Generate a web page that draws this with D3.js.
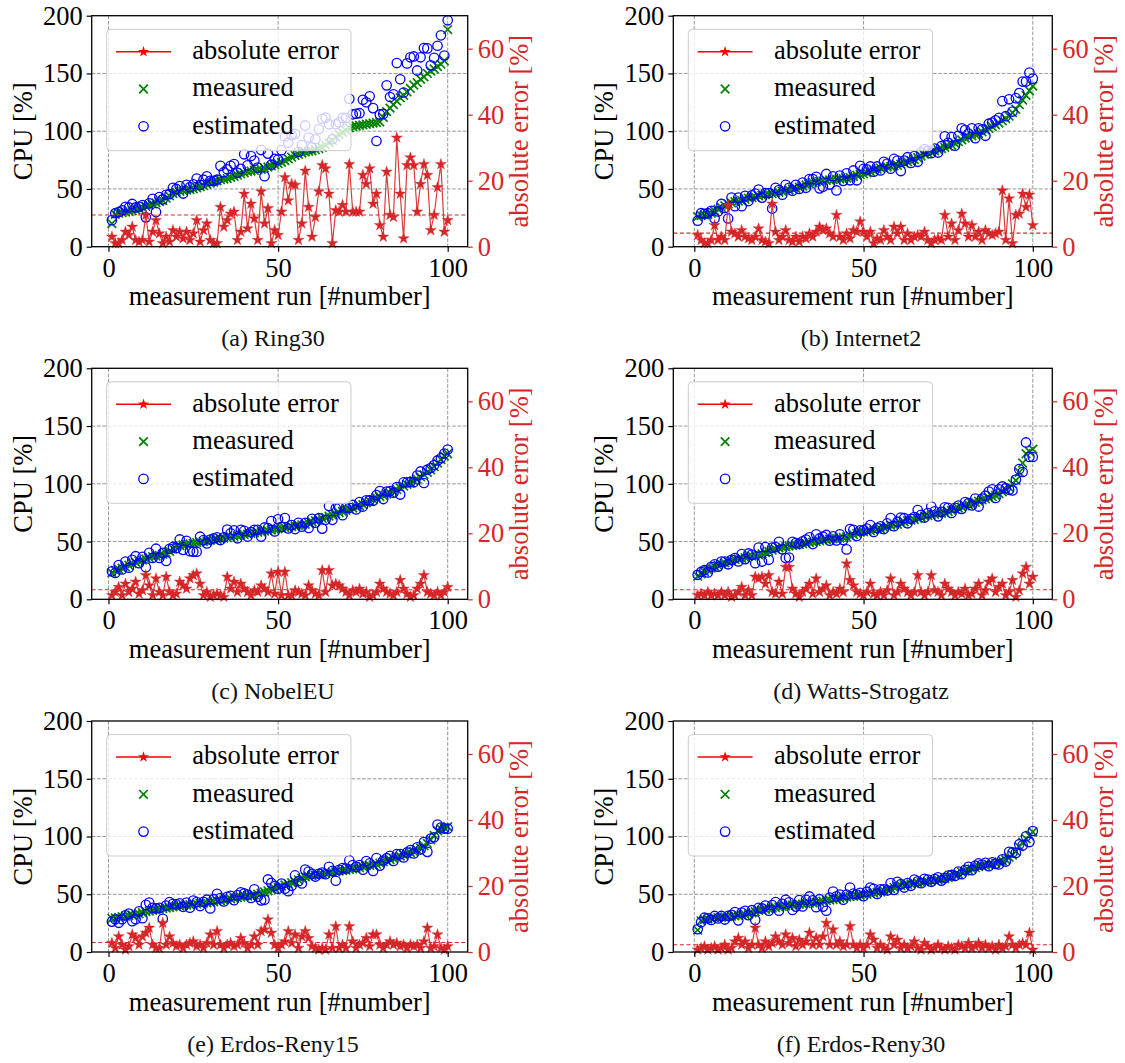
<!DOCTYPE html>
<html>
<head>
<meta charset="utf-8">
<script src="https://cdn.jsdelivr.net/npm/d3@7"></script>
<style>
  html, body { margin: 0; padding: 0; background: #ffffff; }
  svg { display: block; }
  text { font-family: "Liberation Serif", "Times New Roman", serif; }
</style>
</head>
<body>
<svg id="fig" width="1125" height="1063"></svg>
<script>
// ---- data -------------------------------------------------------------
const runIndex = d3.range(1, 101);           // measurement runs 1..100
const cpuTicks = [0, 50, 100, 150, 200];
const errTicks = [0, 20, 40, 60];
const runTicks = [0, 50, 100];
const seriesNames = ["absolute error", "measured", "estimated"];
const captions = ["(a) Ring30", "(b) Internet2", "(c) NobelEU",
                  "(d) Watts-Strogatz", "(e) Erdos-Reny15", "(f) Erdos-Reny30"];
const meanErrors = [9.6, 4.1, 2.9, 2.9, 2.9, 2.2];

const ring30Measured = [20,28,29,29.5,30,30.5,31,32,33,34, 35,36,37,38,39,40,42,44,46,47, 48,48.5,49,49.5,50,51,52,53,54,55, 56,57,58,58.5,59,60,61,62,63,64, 65,65.5,66,66.5,67,68,69,70,71,72, 73,74.5,76,77.5,79,80,81,82,82.5,83, 84,85,86,88,90,92,95,97,99,101, 103,104,104.5,105,105.5,106,106.5,107,107.5,108, 112,117,120,123,126,129,131,134,137,140, 142,145,147,150,152,154,156,158,161,188];
const ring30Estimated = [23,29,30,31.5,34.5,34,37,34,34.5,36, 25.4,37.5,41.5,30,43,41,45,45.5,51,50, 52.5,46,53.5,51.5,54,59,53.5,58,61,57, 57,58,70,64.5,67,70,71.6,64,67.5,80, 70.5,78.5,74.5,68.5,83.7,61,80.6,71,76,75.5, 83.6,95.5,90,96.5,97.7,82,88,105,94.5,86, 93,101.7,110.7,111.7,106,93,106,107.6,111.6,111.6, 128,114.6,115.1,115.6,127.2,125,130.2,120,91.5,114.5, 115,139.7,129.6,132,159,145,133.5,158.7,164,164.7, 152.6,164,172,171.7,157,163.6,174,183,165.5,196];
const ring30Error = [3,1,1,2,4.5,3.5,6,2,1.5,2, 9.6,1.5,4.5,8,4,1,3,1.5,5,3, 4.5,2.5,4.5,2,4,8,1.5,5,7,2, 1,1,12,6,8,10,10.6,2,4.5,16, 5.5,13,8.5,2,16.7,7,11.6,1,5,3.5, 10.6,21,14,19,18.7,2,7,23,12,3, 9,16.7,24.7,23.7,16,1,11,10.6,12.6,10.6, 25,10.6,10.6,10.6,21.7,19,23.7,13,16,6.5, 3,22.7,9.6,9,33,16,2.5,24.7,27,24.7, 10.6,19,25,21.7,5,9.6,18,25,4.5,8];

const internet2Measured = [26,27,27.5,28,29,31,32.5,34,35.5,37, 38,39,39.5,40,41,42,42.5,43,44,44.5, 45,45.5,46,46.5,47,48,48.5,49,50,50.5, 51.5,52.5,53.5,54.5,55.5,56,56.5,57,57.5,57.8, 58,58.3,58.6,59,59.5,60,61,62,62.5,63, 64,65,66,67,68,68.5,69,69.5,70,70.5, 71.5,72.5,73.5,74.5,75.5,77,78.5,80,81,82, 83,84,85,86,87,88,89.5,91,92.5,94, 95,96,97,98,99.5,101,102.5,104,105.5,107, 109,111,113,116,119,123,127,131,135,139];
const internet2Estimated = [22.5,29,28.5,29,31,24.5,30.5,37,33.5,24.4, 42.5,35,42.5,35,44,39.5,44.5,46,49.5,42.5, 46.5,46.5,33,51,49,45,53.5,51,48.5,53.5, 50,55.5,51,58.5,58.5,60.5,50.5,52,63,53.8, 61,48.7,61.6,57,63.5,57.5,66,57.5,70.1,67.5, 67,69.5,65,69.5,66,73.5,72,67.5,76,74.5, 65.5,74.5,77.5,72.5,78.5,73.5,81.5,84.5,83,81, 85,81.5,87,95.6,90,95,87.5,96,102.5,101, 98,102.5,94,102.5,101.5,96,106.5,107.5,109.5,111.5, 126,113,127.6,117,128.6,133,143,143,150.7,145.5];
const internet2Error = [3.5,2,1,1,2,6.5,2,3,2,12.6, 4.5,4,3,5,3,2.5,2,3,5.5,2, 1.5,1,13,4.5,2,3,5,2,1.5,3, 1.5,3,2.5,4,3,4.5,6,5,5.5,4, 3,9.6,3,2,4,2.5,5,4.5,7.6,4.5, 3,4.5,1,2.5,2,5,3,2,6,4, 6,2,4,2,3,3.5,3,4.5,2,1, 2,2.5,2,9.6,3,7,2,5,10,7, 3,6.5,3,4.5,2,5,4,3.5,4,4.5, 17,2,14.6,1,9.6,10,16,12,15.7,6.5];

const nobelMeasured = [23,25,26,27,28,29.5,31,32,33,34, 35,36,37,37.5,38,39,40,41.5,44,46, 46.5,47,47.5,48,48.5,49,49.5,50,50.5,51, 51.5,52,52.5,53,53.5,54,54.5,55,55.5,56, 56.5,57,57.5,58,58.5,59,59.5,60,60.5,61, 61.5,62,62.5,63,63.5,64,64.5,65,66,67, 68,69,70,71,72,73,74,75,76,77, 78,79,80,81,82,83.5,85,86.5,88,89, 90,91,92,93.5,95,96.5,98,99.5,101,102.5, 104,106,108,110,112,115,118,121,124,126];
const nobelEstimated = [24.2,22.8,29.7,25.8,32.7,27.3,34.2,37.3,31.3,36.7, 27.7,40.2,35.8,43.8,35.8,40.2,33.2,43.7,45.2,44.3, 51.8,42.8,50.7,41.7,41.2,41.2,54.2,51.2,48.3,51.7, 52.7,53.7,51.3,53.7,60.3,57.2,59.8,52.8,60.2,59.2, 54.3,58.2,60.2,60.2,54.3,62.2,61.7,67.8,58.8,69.3, 62.7,70.3,61.3,64.2,60.8,66.2,62.8,66.2,61.8,69.7, 66.3,70.2,61.2,68.8,80.8,68.8,78.7,79.2,72.8,79.2, 79.2,81.7,77.8,84.2,80.3,85.7,85.7,85.3,90.2,93.7, 86.8,93.2,93.7,92.3,97.2,90.7,101.2,101.2,101.7,101.3, 107.2,110.7,100.7,112.2,113.7,116.2,120.2,122.2,126.2,129.7];
const nobelError = [1.2,2.2,3.7,1.2,4.7,2.2,3.2,5.3,1.7,2.7, 7.3,4.2,1.2,6.3,2.2,1.2,6.8,2.2,1.2,1.7, 5.3,4.2,3.2,6.3,7.3,7.8,4.7,1.2,2.2,0.7, 1.2,1.7,1.2,0.7,6.8,3.2,5.3,2.2,4.7,3.2, 2.2,1.2,2.7,2.2,4.2,3.2,2.2,7.8,1.7,8.3, 1.2,8.3,1.2,1.2,2.7,2.2,1.7,1.2,4.2,2.7, 1.7,1.2,8.8,2.2,8.8,4.2,4.7,4.2,3.2,2.2, 1.2,2.7,2.2,3.2,1.7,2.2,0.7,1.2,2.2,4.7, 3.2,2.2,1.7,1.2,2.2,5.8,3.2,1.7,0.7,1.2, 3.2,4.7,7.3,2.2,1.7,1.2,2.2,1.2,2.2,3.7];

const wattsMeasured = [20,22,24,25.5,27,28.5,29.5,30.5,31.5,32.5, 33.5,34.5,35,35.5,36,37,37.5,38,38.5,39.5, 40.5,41.5,42.5,43.5,44.5,45,45.5,46,46.5,47, 47.5,48,48.5,49,49.5,50,50.5,51,51.5,52, 52.3,52.6,53,53.5,54,55,56,57,58,58.5, 59,59.5,60,60.5,61,62,63,64,64.5,65, 66,67,68,68.5,69,70,71,72,72.5,73, 73.5,74,74.5,75,76,77,78,79,80,81, 82,83,84,85,86,87,88,89,90,91.5, 93,95,97,100,103,110,118,126,128,130];
const wattsEstimated = [21.2,23.7,25.2,23.3,28.2,30.2,28.3,32.7,32.7,30.3, 34.2,35.7,32.8,39.2,34.8,39.7,38.7,31.2,44.8,32.7, 45.2,34.2,44.7,45.2,49.8,43.3,35.7,36.2,49.7,48.7, 48.2,50.2,51.7,53.7,47.8,56.3,52.7,54.2,55.7,50.8, 54.5,50.9,56.2,51.3,43.2,60.8,60.2,54.8,59.7,59.7, 61.2,64.2,58.3,61.7,63.2,60.8,65.7,70.3,63.3,67.2, 70.7,70.2,65.8,69.7,71.2,77.3,73.2,70.8,74.7,80.3, 76.2,71.8,75.7,79.7,79.2,74.8,79.2,81.2,78.3,84.2, 83.2,81.3,87.2,80.3,87.2,89.7,93.3,95.3,87.8,95.2, 97.7,96.2,94.8,94.2,103.7,112.7,110.2,135.8,123.3,123.2];
const wattsError = [1.2,1.7,1.2,2.2,1.2,1.7,1.2,2.2,1.2,2.2, 0.7,1.2,2.2,3.7,1.2,2.7,1.2,6.8,6.3,6.8, 4.7,7.3,2.2,1.7,5.3,1.7,9.8,9.8,3.2,1.7, 0.7,2.2,3.2,4.7,1.7,6.3,2.2,3.2,4.2,1.2, 2.2,1.7,3.2,2.2,10.8,5.8,4.2,2.2,1.7,1.2, 2.2,4.7,1.7,1.2,2.2,1.2,2.7,6.3,1.2,2.2, 4.7,3.2,2.2,1.2,2.2,7.3,2.2,1.2,2.2,7.3, 2.7,2.2,1.2,4.7,3.2,2.2,1.2,2.2,1.7,3.2, 1.2,1.7,3.2,4.7,1.2,2.7,5.3,6.3,2.2,3.7, 4.7,1.2,2.2,5.8,0.7,2.7,7.8,9.8,4.7,6.8];

const erdos15Measured = [29,29.5,30,30.5,31,31.5,32,32.5,33,34, 35,35.5,36,36.5,37,37.5,38,38.5,39,39.5, 40,40.3,40.6,41,41.3,41.6,42,42.3,42.6,43, 43.5,44,44.5,45,45.5,46,46.5,47,47.5,48, 48.5,49,49.5,50,51,52,53,54,55,56, 57,58,59,60,61,62.5,64,65,65.5,66, 66.5,67,67.5,68,68.5,69,69.5,70,70.5,71, 71.5,72,72.5,73,74,74.5,75,75.5,76,77, 78,79,80,81,82,83,84,85,86,87, 88.5,90,92,94,97,101,105,106.5,107.5,108.5];
const erdos15Estimated = [26.3,28.3,25.3,28.3,31.7,33.2,26.7,28.3,35.2,29.3, 40.8,42.8,38.2,37.7,38.2,28.7,40.2,43.2,41.7,41.2, 42.2,39.1,42.8,38.3,44.5,43.3,39.8,43.5,45.3,37.7, 45.7,50.3,46.7,43.8,47.7,48.7,44.8,49.2,51.7,50.7, 49.7,46.8,54.2,47.8,44.7,45.2,62.8,59.8,57.2,54.8, 59.2,54.8,52.7,57.3,66.3,61.3,59.3,71.3,69.7,67.7, 65.3,67.7,68.7,67.3,73.8,70.2,61.7,71.2,72.7,72.2, 79.3,75.2,73.7,75.2,71.3,78.7,76.7,70.2,81.3,74.8, 79.2,81.2,83.2,78.8,84.7,84.7,81.8,86.2,88.2,85.3, 90.7,88.8,95.2,86.7,98.2,99.3,110.3,107.7,106.8,106.8];
const erdos15Error = [2.7,1.2,4.7,2.2,0.7,1.7,5.3,4.2,2.2,4.7, 5.8,7.3,2.2,1.2,1.2,8.8,2.2,4.7,2.7,1.7, 2.2,1.2,2.2,2.7,3.2,1.7,2.2,1.2,2.7,5.3, 2.2,6.3,2.2,1.2,2.2,2.7,1.7,2.2,4.2,2.7, 1.2,2.2,4.7,2.2,6.3,6.8,9.8,5.8,2.2,1.2, 2.2,3.2,6.3,2.7,5.3,1.2,4.7,6.3,4.2,1.7, 1.2,0.7,1.2,0.7,5.3,1.2,7.8,1.2,2.2,1.2, 7.8,3.2,1.2,2.2,2.7,4.2,1.7,5.3,5.3,2.2, 1.2,2.2,3.2,2.2,2.7,1.7,2.2,1.2,2.2,1.7, 2.2,1.2,3.2,7.3,1.2,1.7,5.3,1.2,0.7,1.7];

const erdos30Measured = [19,27,28,28.5,29,29.5,29.8,30,30.3,30.6, 31,31.3,31.6,32,32.4,33,34,35,36,36.5, 37,37.5,38,38.5,39,39.5,40,40.3,40.6,41, 41.3,41.6,42,42.3,42.6,43,43.5,44,44.5,45, 45.5,46,46.5,47,47.5,48,48.3,48.6,49,49.5, 50,50.5,51,51.5,52,53,54,55,56,57, 57.5,58,58.5,59,59.5,60,60.3,60.6,61,61.5, 62,62.5,63,63.5,64.5,65.5,66.5,67.5,69,70, 71,72,73,74,74.5,75,75.5,76,77,78, 79,80,82,84,87,91,95,98,101,104];
const erdos30Estimated = [19.7,25.8,29.7,29.2,27.8,31.2,29.1,31.2,28.1,31.3, 32.2,34.5,27.4,34.2,35.6,31.8,36.2,27.7,38.2,37.7, 40.2,35.8,40.7,43.2,35.8,41.7,45.3,43,36.4,39.3, 45,39.4,45.2,48.1,44.8,38.8,45.7,39.3,35.7,47.2, 52.3,48.2,49.7,45.3,49.7,55.8,50.5,49.8,51.2,48.3, 52.2,55.8,54.7,50.3,54.2,54.2,53.3,59.7,53.8,60.7, 58.7,55.8,59.7,57.3,62.7,61.2,59.6,63.3,62.7,60.8, 63.2,64.7,61.8,64.2,66.2,66.7,65.8,69.7,67.3,71.2, 73.7,70.8,74.7,76.7,75.7,77.2,74.3,77.7,76.3,75.8, 80.2,78.3,86.7,86.2,85.8,93.2,92.3,100.2,95.2,104.7];
const erdos30Error = [0.7,1.2,1.7,0.7,1.2,1.7,0.7,1.2,2.2,0.7, 1.2,3.2,4.2,2.2,3.2,1.2,2.2,7.3,2.2,1.2, 3.2,1.7,2.7,4.7,3.2,2.2,5.3,2.7,4.2,1.7, 3.7,2.2,3.2,5.8,2.2,4.2,2.2,4.7,8.8,2.2, 6.8,2.2,3.2,1.7,2.2,7.8,2.2,1.2,2.2,1.2, 2.2,5.3,3.7,1.2,2.2,1.2,0.7,4.7,2.2,3.7, 1.2,2.2,1.2,1.7,3.2,1.2,0.7,2.7,1.7,0.7, 1.2,2.2,1.2,0.7,1.7,1.2,0.7,2.2,1.7,1.2, 2.7,1.2,1.7,2.7,1.2,2.2,1.2,1.7,0.7,2.2, 1.2,1.7,4.7,2.2,1.2,2.2,2.7,2.2,5.8,0.7];

// ---- layout -------------------------------------------------------------
const FONT = 26.5;
const colFrames = [
  { left: 91.7,  right: 467.7,  x0: 108.5, x100: 447.7, captionX: 273 },
  { left: 673.3, right: 1052.3, x0: 694.3, x100: 1032.8, captionX: 861 }
];
const rowTops = [15.7, 368.3, 721];
const plotH = 231;

const COLORS = {
  measured: "#008000",
  estimated: "#0000ff",
  error: "#d62728",
  legendError: "#ff0000",
  grid: "#8c8c8c",
  frameLegend: "#cccccc"
};

const panels = [
  { m: ring30Measured,    e: ring30Estimated,    err: ring30Error },
  { m: internet2Measured, e: internet2Estimated, err: internet2Error },
  { m: nobelMeasured,     e: nobelEstimated,     err: nobelError },
  { m: wattsMeasured,     e: wattsEstimated,     err: wattsError },
  { m: erdos15Measured,   e: erdos15Estimated,   err: erdos15Error },
  { m: erdos30Measured,   e: erdos30Estimated,   err: erdos30Error }
];

const svg = d3.select("#fig");
svg.append("rect").attr("width", 1125).attr("height", 1063).attr("fill", "#fff");

const starPath = d3.symbol().type(d3.symbolStar).size(38)();
const crossPath = "M-4.3,-4.3L4.3,4.3M-4.3,4.3L4.3,-4.3";
const CIRCLE_R = 4.7;

panels.forEach((p, i) => {
  const col = i % 2, row = Math.floor(i / 2);
  const f = colFrames[col];
  const T = rowTops[row], B = T + plotH, L = f.left, R = f.right;

  const x = d3.scaleLinear().domain([0, 100]).range([f.x0, f.x100]);
  const y = d3.scaleLinear().domain([0, 200]).range([B, T]);
  const yErr = d3.scaleLinear().domain([0, 70]).range([B, T]);

  const g = svg.append("g");

  // grid
  const grid = g.append("g").attr("stroke", COLORS.grid).attr("stroke-width", 0.9)
    .attr("stroke-dasharray", "3.7,1.6");
  grid.selectAll("line.v").data(runTicks).join("line")
    .attr("x1", d => x(d)).attr("x2", d => x(d)).attr("y1", T).attr("y2", B);
  grid.selectAll("line.h").data(cpuTicks.slice(1, -1)).join("line")
    .attr("x1", L).attr("x2", R).attr("y1", d => y(d)).attr("y2", d => y(d));

  // measured (x markers)
  g.append("g").selectAll("path").data(runIndex).join("path")
    .attr("d", crossPath)
    .attr("transform", (d, k) => `translate(${x(d)},${y(p.m[k])})`)
    .attr("stroke", COLORS.measured).attr("stroke-width", 1.7).attr("fill", "none");

  // estimated (open circles)
  g.append("g").selectAll("circle").data(runIndex).join("circle")
    .attr("cx", d => x(d)).attr("cy", (d, k) => y(p.e[k])).attr("r", CIRCLE_R)
    .attr("fill", "none").attr("stroke", COLORS.estimated).attr("stroke-width", 1.3);

  // mean absolute error
  g.append("line")
    .attr("x1", L).attr("x2", R)
    .attr("y1", yErr(meanErrors[i])).attr("y2", yErr(meanErrors[i]))
    .attr("stroke", COLORS.error).attr("stroke-width", 1.1).attr("stroke-dasharray", "4,2.6");

  // absolute error line + stars
  const line = d3.line().x(d => x(d)).y((d, k) => yErr(p.err[k]));
  g.append("path").datum(runIndex).attr("d", line)
    .attr("fill", "none").attr("stroke", COLORS.error).attr("stroke-width", 1.2)
    .attr("stroke-opacity", 0.9);
  g.append("g").selectAll("path").data(runIndex).join("path")
    .attr("d", starPath)
    .attr("transform", (d, k) => `translate(${x(d)},${yErr(p.err[k])})`)
    .attr("fill", COLORS.error).attr("stroke", COLORS.error).attr("stroke-width", 0.4);

  // frame
  g.append("rect").attr("x", L).attr("y", T).attr("width", R - L).attr("height", plotH)
    .attr("fill", "none").attr("stroke", "#000").attr("stroke-width", 1.3);

  // axes
  const styleAxis = (sel, color) => {
    sel.select(".domain").remove();
    sel.attr("font-family", null).attr("font-size", null);
    sel.selectAll(".tick line").attr("stroke", color).attr("stroke-width", 1.2);
    sel.selectAll(".tick text").attr("fill", color).attr("font-size", FONT);
  };
  g.append("g").attr("transform", `translate(${L},0)`)
    .call(d3.axisLeft(y).tickValues(cpuTicks).tickSize(5).tickPadding(4).tickFormat(d3.format("d")))
    .call(s => styleAxis(s, "#000"));
  g.append("g").attr("transform", `translate(0,${B})`)
    .call(d3.axisBottom(x).tickValues(runTicks).tickSize(5).tickPadding(6).tickFormat(d3.format("d")))
    .call(s => styleAxis(s, "#000"));
  g.append("g").attr("transform", `translate(${R},0)`)
    .call(d3.axisRight(yErr).tickValues(errTicks).tickSize(5).tickPadding(5).tickFormat(d3.format("d")))
    .call(s => styleAxis(s, COLORS.error));

  // axis titles
  g.append("text").attr("transform", `translate(${L - 60.2},${(T + B) / 2}) rotate(-90)`)
    .attr("text-anchor", "middle").attr("font-size", FONT).attr("fill", "#000").text("CPU [%]");
  g.append("text").attr("transform", `translate(${R + 60.5},${(T + B) / 2}) rotate(-90)`)
    .attr("text-anchor", "middle").attr("font-size", FONT).attr("fill", COLORS.error)
    .text("absolute error [%]");
  g.append("text").attr("x", (L + R) / 2).attr("y", B + 58.6)
    .attr("text-anchor", "middle").attr("font-size", FONT).attr("fill", "#000")
    .text("measurement run [#number]");

  // caption
  g.append("text").attr("x", f.captionX).attr("y", B + 99.5)
    .attr("text-anchor", "middle").attr("font-size", 24).attr("fill", "#111")
    .text(captions[i]);

  // legend
  const lg = g.append("g").attr("transform", `translate(${L + 15},${T + 13.6})`);
  lg.append("rect").attr("width", 244.3).attr("height", 121.4).attr("rx", 4)
    .attr("fill", "#fff").attr("fill-opacity", 0.8)
    .attr("stroke", COLORS.frameLegend).attr("stroke-width", 1);
  const rowsY = [22.4, 59.7, 97];
  const hx = 36.8;
  lg.append("line").attr("x1", 9.3).attr("x2", 64.3).attr("y1", rowsY[0]).attr("y2", rowsY[0])
    .attr("stroke", COLORS.legendError).attr("stroke-width", 1.5);
  lg.append("path").attr("d", starPath).attr("transform", `translate(${hx},${rowsY[0]})`)
    .attr("fill", COLORS.legendError);
  lg.append("path").attr("d", crossPath).attr("transform", `translate(${hx},${rowsY[1]})`)
    .attr("stroke", COLORS.measured).attr("stroke-width", 1.7).attr("fill", "none");
  lg.append("circle").attr("cx", hx).attr("cy", rowsY[2]).attr("r", CIRCLE_R)
    .attr("fill", "none").attr("stroke", COLORS.estimated).attr("stroke-width", 1.3);
  lg.selectAll("text.lbl").data(seriesNames).join("text")
    .attr("x", 85.6).attr("y", (d, k) => rowsY[k] + 7.5)
    .attr("font-size", FONT).attr("fill", "#000").text(d => d);
});
</script>
</body>
</html>
